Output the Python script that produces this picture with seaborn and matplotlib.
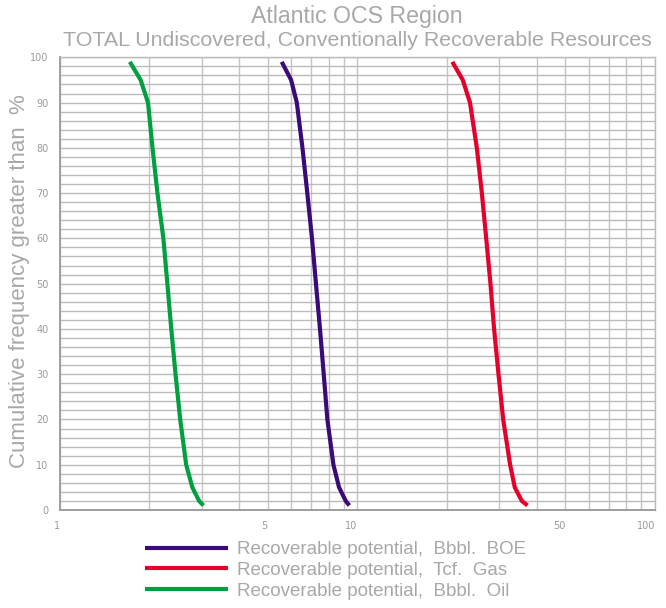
import matplotlib
matplotlib.use("Agg")
import matplotlib.pyplot as plt
import seaborn as sns
import pandas as pd
import numpy as np
from matplotlib.ticker import FixedLocator, NullFormatter

# ---- data ----
pct = [99, 95, 90, 80, 70, 60, 50, 40, 30, 20, 10, 5, 2, 1]
boe = [5.57, 5.99, 6.26, 6.54, 6.79, 7.04, 7.26, 7.49, 7.71, 7.93, 8.31, 8.68, 9.14, 9.40]
gas = [20.85, 22.6, 23.9, 25.2, 26.2, 27.1, 28.0, 28.8, 29.8, 30.9, 32.6, 33.8, 35.7, 37.3]
oil = [1.72, 1.87, 1.98, 2.05, 2.13, 2.23, 2.30, 2.37, 2.45, 2.54, 2.66, 2.79, 2.94, 3.04]
labels = ["Recoverable potential,  Bbbl.  BOE",
          "Recoverable potential,  Tcf.  Gas",
          "Recoverable potential,  Bbbl.  Oil"]
colors = ["#3a0a78", "#e4002b", "#00a040"]
x_major = [1, 5, 10, 50, 100]
x_grid = [1, 2, 3, 4, 5, 6, 7, 8, 9, 10, 20, 30, 40, 50, 60, 70, 80, 90, 100]
y_major = list(range(0, 101, 10))
y_grid = list(range(0, 101, 2))
title1 = "Atlantic OCS Region"
title2 = "TOTAL Undiscovered, Conventionally Recoverable Resources"
ylabel = "Cumulative frequency greater than  %"

df = pd.concat([
    pd.DataFrame({"x": boe, "y": pct, "series": labels[0]}),
    pd.DataFrame({"x": gas, "y": pct, "series": labels[1]}),
    pd.DataFrame({"x": oil, "y": pct, "series": labels[2]}),
])

sns.set_style("white")
fam = ["Liberation Sans", "DejaVu Sans"]
txt = "#a8a8a8"

fig = plt.figure(figsize=(6.66, 6.08), dpi=100)
ax = fig.add_axes([59.7 / 666, 1 - 510 / 608, (655 - 59.7) / 666, (510 - 57.3) / 608])

ax.set_xscale("log")
ax.set_xlim(1, 100)
ax.set_ylim(0, 100)

for g in x_grid:
    ax.axvline(g, color="#c4c4c4", lw=1.0, zorder=0)
for g in y_grid:
    ax.axhline(g, color="#bcbcbc", lw=1.0, zorder=0)

sns.lineplot(data=df, x="x", y="y", hue="series", palette=colors,
             sort=False, estimator=None, lw=3.0, ax=ax, legend=True)
for ln in ax.get_lines():
    ln.set_solid_joinstyle("round")
    ln.set_solid_capstyle("butt")

ax.xaxis.set_major_locator(FixedLocator(x_major))
ax.xaxis.set_minor_locator(FixedLocator([g for g in x_grid if g not in x_major]))
ax.xaxis.set_minor_formatter(NullFormatter())
ax.set_xticklabels([str(v) for v in x_major])
ax.yaxis.set_major_locator(FixedLocator(y_major))
ax.yaxis.set_minor_locator(FixedLocator(y_grid))
ax.set_yticklabels([str(v) for v in y_major])

ax.tick_params(axis="both", which="major", length=6, width=1, color="#a0a0a0",
               labelsize=7, labelcolor="#9a9a9a", direction="out", pad=2)
ax.tick_params(axis="both", which="minor", length=3, width=1, color="#b8b8b8", direction="out")
for lab in ax.get_xticklabels():
    lab.set_horizontalalignment("right")

for s in ["left", "bottom"]:
    ax.spines[s].set_color("#9e9e9e")
    ax.spines[s].set_linewidth(1.4)
for s in ["top", "right"]:
    ax.spines[s].set_color("#bcbcbc")
    ax.spines[s].set_linewidth(1.0)

ax.set_xlabel("")
ax.set_ylabel("")

fig.text(357 / 666, 1 - 16 / 608, title1, ha="center", va="center",
         fontsize=16.7, color=txt, family=fam)
fig.text(357 / 666, 1 - 41 / 608, title2, ha="center", va="center",
         fontsize=15.4, color=txt, family=fam)
fig.text(20 / 666, 1 - 281 / 608, ylabel, ha="center", va="center",
         rotation=90, fontsize=16, color=txt, family=fam)

handles, labs = ax.get_legend_handles_labels()
ax.get_legend().remove()
leg = fig.legend(handles, labs, loc="upper left",
                 bbox_to_anchor=(145 / 666, 1 - 541 / 608), frameon=False,
                 prop={"family": fam, "size": 13.5}, labelcolor=txt,
                 handlelength=4.4, handletextpad=0.53, labelspacing=0.19,
                 borderpad=0, borderaxespad=0)
for h in leg.get_lines():
    h.set_linewidth(3.0)

fig.savefig("out.png", dpi=100)
